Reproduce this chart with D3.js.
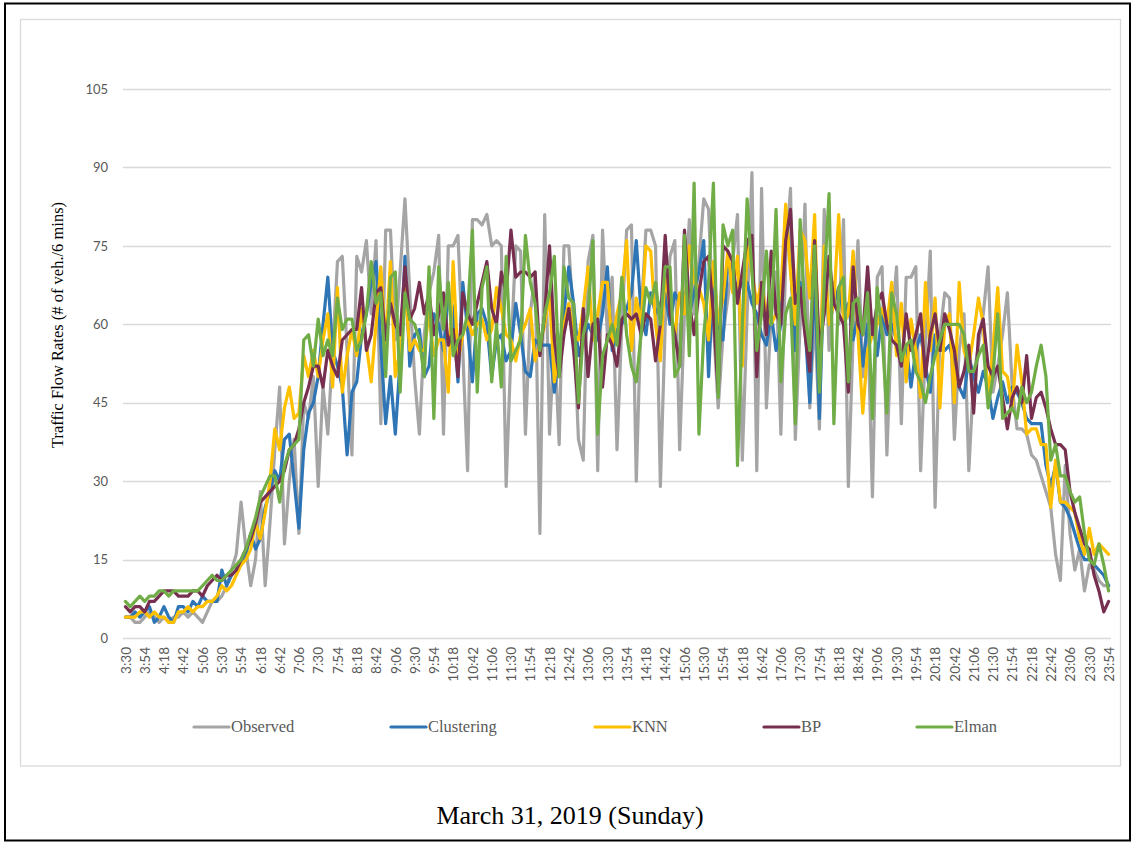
<!DOCTYPE html>
<html>
<head>
<meta charset="utf-8">
<script src="https://cdn.jsdelivr.net/npm/d3@7"></script>
<style>
  body { margin: 0; background: #fff; }
  svg { display: block; }
  .tick text { fill: #595959; font-family: Lato, "Open Sans", sans-serif; }
  .serif { font-family: "Liberation Serif", "Times New Roman", serif; }
</style>
</head>
<body>
<svg id="chart" width="1133" height="842"></svg>
<script>
// tick labels on the category axis (every 4th slot)
const tickLabels = ['3:30','3:54','4:18','4:42','5:06','5:30','5:54','6:18','6:42','7:06','7:30','7:54',
    '8:18','8:42','9:06','9:30','9:54','10:18','10:42','11:06','11:30','11:54','12:18','12:42','13:06',
    '13:30','13:54','14:18','14:42','15:06','15:30','15:54','16:18','16:42','17:06','17:30','17:54',
    '18:18','18:42','19:06','19:30','19:54','20:18','20:42','21:06','21:30','21:54','22:18','22:42',
    '23:06','23:30','23:54'];

const yTicks = [0, 15, 30, 45, 60, 75, 90, 105];

const seriesNames = ['Observed', 'Clustering', 'KNN', 'BP', 'Elman'];
const seriesColors = ['#a5a5a5', '#2e75b6', '#ffc000', '#772f4f', '#70ad47'];

const observed = [
    4,4,3,3,4,5,4,3,4,3, 4,4,5,4,5,4,3,5,7,7, 8,10,13,16,26,17,10,15,28,10,
    22,36,48,18,30,38,20,45,42,50, 29,48,39,55,72,73,55,35,73,70,
    76,62,76,41,78,78,57,70,84,66, 50,39,58,66,70,77,39,75,75,77,
    55,32,80,80,79,81,75,76,75,29, 55,75,74,39,62,70,20,81,39,58,
    37,75,75,60,38,34,72,77,32,78, 58,69,36,60,78,79,30,62,78,78,
    75,29,60,73,76,36,62,80,62,72, 84,82,60,44,58,65,72,81,34,62,
    89,32,86,44,62,70,39,72,86,38, 60,83,44,62,40,82,55,68,60,80,
    29,58,76,50,62,27,69,71,35,60, 71,41,69,69,71,32,56,74,25,58,
    66,65,38,55,62,32,50,56,62,71, 47,52,58,66,48,40,40,39,35,34,
    31,28,25,16,11,33,20,13,17,9, 14,13,11,10,10];

const clustering = [
    4,4,5,4,5,6,3,4,6,4, 3,6,6,5,7,6,8,7,7,7, 13,10,12,13,14,16,20,17,19,25,
    28,32,30,38,39,30,21,36,43,45, 50,60,69,55,52,48,35,47,49,58,
    62,68,72,56,41,50,39,53,73,52, 58,59,50,52,62,60,55,66,63,49,
    68,59,49,62,63,60,50,57,58,53, 55,64,58,51,50,57,56,56,56,47,
    55,62,71,64,54,57,60,58,57,62, 71,55,59,60,63,66,76,62,58,66,
    62,64,66,60,66,64,66,62,66,70, 76,50,69,60,57,72,70,66,68,68,
    64,62,58,56,62,55,60,82,72,55, 68,60,45,70,42,72,60,64,67,62,
    64,57,62,52,60,61,54,62,58,60, 57,53,56,48,55,58,52,47,58,55,
    55,56,52,48,46,54,50,47,51,48, 42,46,49,45,48,47,45,42,41,41,
    41,33,29,33,26,25,23,20,17,15, 15,14,13,12,10];

const knn = [
    4,4,4,5,5,4,5,4,4,3, 3,5,5,6,5,6,6,7,7,8, 10,9,10,12,14,15,17,22,19,24,
    30,40,36,44,48,42,43,54,50,55, 50,57,62,48,67,47,54,59,54,63,
    56,49,60,71,56,72,50,55,68,55, 57,55,55,62,54,57,57,47,72,53,
    58,61,58,60,61,57,59,67,63,58, 57,53,58,60,63,53,56,60,66,49,
    55,60,64,58,57,63,71,57,62,68, 68,56,62,66,76,55,65,60,75,74,
    60,53,70,63,58,66,62,75,68,67, 64,57,72,60,65,74,66,73,52,75,
    70,64,68,62,60,62,66,83,70,60, 78,76,65,81,50,75,60,64,81,60,
    62,74,58,43,55,58,60,63,60,68, 54,64,49,61,55,46,68,55,65,44,
    60,62,45,68,55,52,58,65,60,46, 55,67,51,50,44,56,49,39,40,40,
    37,37,25,34,26,26,25,24,19,16, 21,16,18,17,16];

const bp = [
    6,5,6,6,5,7,7,8,9,9, 9,8,8,8,9,9,8,10,11,12, 11,12,12,13,15,17,19,22,26,27,
    28,29,30,32,36,37,40,45,48,52, 52,48,55,52,50,57,58,59,59,67,
    55,58,66,67,57,64,60,58,71,61, 63,68,62,66,58,62,66,56,59,50,
    66,62,60,64,68,72,63,60,70,66, 78,69,70,70,69,70,54,62,75,57,
    50,58,63,55,44,63,50,60,61,48, 58,56,52,61,62,61,62,58,62,61,
    53,60,77,62,58,52,78,64,58,66, 72,73,62,47,75,74,72,64,70,76,
    77,50,68,58,74,62,60,76,82,64, 67,58,51,76,55,62,73,64,62,60,
    47,71,60,58,71,58,64,66,60,57, 56,52,62,55,58,62,50,58,62,55,
    62,59,55,48,51,56,43,58,61,52, 50,52,46,40,46,48,45,54,42,46,
    47,44,40,37,37,36,28,24,21,18, 17,12,9,5,7];

const elman = [
    7,6,7,8,7,8,8,9,9,8, 9,9,9,9,9,9,10,11,12,11, 11,12,13,14,15,17,20,23,27,29,
    31,31,26,33,36,37,38,57,58,52, 61,54,57,54,65,59,61,61,55,57,
    62,72,64,66,50,69,70,47,66,61, 60,57,50,71,42,71,59,68,54,57,
    58,62,78,47,67,71,49,60,48,73, 53,55,57,77,68,64,55,62,66,73,
    50,71,65,64,45,58,62,76,39,54, 57,60,56,69,58,52,49,58,67,64,
    68,60,71,71,50,52,77,54,87,39, 58,68,87,46,79,75,78,33,60,84,
    70,55,62,74,60,82,49,62,65,41, 80,62,55,75,47,68,85,41,67,69,
    49,64,65,58,66,42,67,58,43,66, 62,53,56,57,51,49,45,50,54,57,
    60,60,60,60,58,51,51,54,56,44, 50,62,42,43,44,42,48,45,47,52,
    56,50,34,37,31,31,28,26,27,20, 15,14,18,14,9];

const seriesValues = [observed, clustering, knn, bp, elman];

// one category every 6 minutes from 3:30 to 23:54
const categories = [];
for (let m = 210; m <= 1434; m += 6) {
    categories.push(Math.floor(m / 60) + ':' + String(m % 60).padStart(2, '0'));
}

const svg = d3.select('#chart');

const x = d3.scalePoint()
    .domain(categories)
    .range([123, 1111])
    .padding(0.5);

const y = d3.scaleLinear()
    .domain([0, 105])
    .range([638, 89]);

// outer page frame and inner chart frame
svg.append('rect')
    .attr('x', 5).attr('y', 3.5)
    .attr('width', 1125).attr('height', 837)
    .attr('fill', 'none')
    .attr('stroke', '#000')
    .attr('stroke-width', 2);

svg.append('rect')
    .attr('x', 20.5).attr('y', 19.5)
    .attr('width', 1100).attr('height', 746.5)
    .attr('fill', 'none')
    .attr('stroke', '#d9d9d9')
    .attr('stroke-width', 1.3);

// gridlines
svg.append('g')
    .selectAll('line')
    .data(yTicks)
    .join('line')
    .attr('x1', 123).attr('x2', 1111)
    .attr('y1', d => Math.round(y(d)) + 0.5)
    .attr('y2', d => Math.round(y(d)) + 0.5)
    .attr('stroke', '#d9d9d9')
    .attr('stroke-width', 1.3);

// y axis labels
svg.append('g')
    .attr('transform', 'translate(123,0)')
    .call(d3.axisLeft(y).tickValues(yTicks).tickSize(0).tickPadding(15))
    .call(g => g.select('.domain').remove())
    .selectAll('text')
    .style('font-size', '13px');

// x axis labels, rotated
svg.append('g')
    .attr('transform', 'translate(0,638)')
    .call(d3.axisBottom(x).tickValues(tickLabels).tickSize(0))
    .call(g => g.select('.domain').remove())
    .selectAll('text')
    .style('font-size', '13.5px')
    .style('text-anchor', 'end')
    .attr('transform', 'rotate(-90)')
    .attr('x', -9)
    .attr('y', 0)
    .attr('dy', '0.35em');

// series lines
const line = d3.line()
    .x((d, i) => x(categories[i]))
    .y(d => y(d));

svg.append('g')
    .selectAll('path')
    .data(seriesValues)
    .join('path')
    .attr('d', line)
    .attr('fill', 'none')
    .attr('stroke', (d, i) => seriesColors[i])
    .attr('stroke-width', 3.2)
    .attr('stroke-linejoin', 'round')
    .attr('stroke-linecap', 'round');

// axis title
svg.append('text')
    .classed('serif', true)
    .attr('transform', 'translate(63,325) rotate(-90)')
    .attr('text-anchor', 'middle')
    .style('font-size', '16.5px')
    .attr('fill', '#000')
    .text('Traffic Flow Rates (# of veh./6 mins)');

// legend
const legendX = [194, 391, 595, 764, 917];
const legend = svg.append('g')
    .selectAll('g')
    .data(seriesNames)
    .join('g')
    .attr('transform', (d, i) => 'translate(' + legendX[i] + ',727)');

legend.append('line')
    .attr('x1', 0).attr('x2', 35)
    .attr('stroke', (d, i) => seriesColors[i])
    .attr('stroke-width', 3.2)
    .attr('stroke-linecap', 'round');

legend.append('text')
    .classed('serif', true)
    .attr('x', 37)
    .attr('dy', '0.33em')
    .style('font-size', '16.5px')
    .attr('fill', '#595959')
    .text(d => d);

// caption under the chart
svg.append('text')
    .classed('serif', true)
    .attr('x', 570).attr('y', 824)
    .attr('text-anchor', 'middle')
    .style('font-size', '26px')
    .attr('fill', '#000')
    .text('March 31, 2019 (Sunday)');
</script>
</body>
</html>
